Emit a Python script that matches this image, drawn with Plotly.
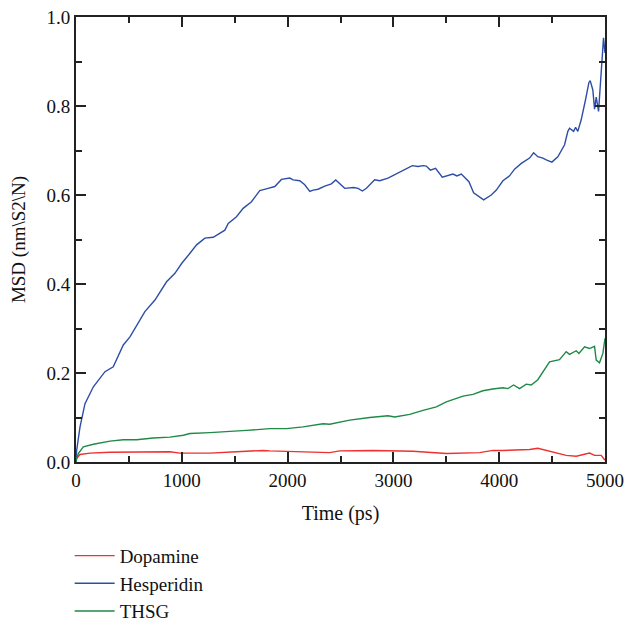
import plotly.graph_objects as go

# Hesperidin
hes_t = [0, 6, 38, 85, 164, 274, 352, 447, 510, 651, 746, 856, 935, 998, 1077, 1140, 1218, 1297,
         1407, 1439, 1517, 1580, 1659, 1737, 1816, 1879, 1942, 2021, 2052, 2115, 2162, 2210, 2241,
         2288, 2351, 2414, 2455, 2493, 2540, 2625, 2666, 2707, 2745, 2823, 2871, 2949, 3028, 3091,
         3179, 3232, 3280, 3311, 3349, 3399, 3462, 3563, 3600, 3642, 3714, 3758, 3853, 3925, 3973,
         4035, 4098, 4145, 4209, 4287, 4325, 4365, 4413, 4445, 4498, 4554, 4592, 4618, 4649, 4665,
         4703, 4722, 4743, 4775, 4816, 4848, 4860, 4885, 4901, 4917, 4939, 4964, 4986, 5000]
hes_y = [0.0, 0.026, 0.079, 0.131, 0.169, 0.203, 0.214, 0.263, 0.281, 0.338, 0.364, 0.405, 0.424,
         0.446, 0.469, 0.488, 0.503, 0.505, 0.521, 0.536, 0.551, 0.570, 0.585, 0.610, 0.615, 0.619,
         0.635, 0.638, 0.634, 0.632, 0.623, 0.608, 0.611, 0.613, 0.620, 0.625, 0.634, 0.626, 0.615,
         0.617, 0.615, 0.609, 0.615, 0.634, 0.632, 0.638, 0.647, 0.656, 0.666, 0.664, 0.666, 0.665,
         0.656, 0.660, 0.640, 0.647, 0.643, 0.647, 0.630, 0.605, 0.589, 0.600, 0.611, 0.632, 0.643,
         0.658, 0.671, 0.683, 0.695, 0.686, 0.683, 0.679, 0.674, 0.686, 0.701, 0.713, 0.743, 0.750,
         0.743, 0.752, 0.743, 0.769, 0.814, 0.853, 0.857, 0.836, 0.793, 0.820, 0.788, 0.874, 0.953,
         0.919]

# THSG
thsg_t = [0, 6, 22, 69, 164, 321, 447, 573, 730, 888, 1014, 1077, 1265, 1423, 1612, 1832, 1990,
          2146, 2335, 2398, 2493, 2587, 2776, 2949, 3012, 3154, 3280, 3406, 3500, 3658, 3752, 3846,
          3940, 4035, 4082, 4136, 4192, 4256, 4303, 4365, 4476, 4570, 4633, 4665, 4728, 4753, 4807,
          4854, 4901, 4917, 4948, 4980, 5000]
thsg_y = [0.0, 0.008, 0.019, 0.034, 0.040, 0.047, 0.050, 0.050, 0.054, 0.056, 0.060, 0.064, 0.066,
          0.069, 0.071, 0.075, 0.075, 0.079, 0.086, 0.085, 0.090, 0.094, 0.100, 0.104, 0.101, 0.107,
          0.116, 0.124, 0.135, 0.148, 0.152, 0.160, 0.164, 0.167, 0.165, 0.173, 0.165, 0.175, 0.173,
          0.185, 0.225, 0.230, 0.248, 0.242, 0.250, 0.244, 0.259, 0.255, 0.260, 0.229, 0.223, 0.244,
          0.278]

# Dopamine
dop_t = [0, 6, 38, 132, 321, 573, 888, 982, 1014, 1265, 1517, 1769, 1832, 2398, 2493, 2807, 3185,
         3500, 3815, 3941, 4035, 4287, 4365, 4476, 4633, 4728, 4854, 4901, 4964, 5000]
dop_y = [0.0, 0.008, 0.017, 0.020, 0.022, 0.022, 0.023, 0.020, 0.020, 0.020, 0.023, 0.026, 0.025,
         0.021, 0.025, 0.026, 0.024, 0.019, 0.021, 0.026, 0.026, 0.028, 0.031, 0.025, 0.015, 0.013,
         0.020, 0.015, 0.015, 0.004]

FONT = "Liberation Serif"

fig = go.Figure()
fig.add_trace(go.Scatter(x=dop_t, y=dop_y, mode="lines", name="Dopamine",
                         line=dict(color="#ee3030", width=1.4)))
fig.add_trace(go.Scatter(x=hes_t, y=hes_y, mode="lines", name="Hesperidin",
                         line=dict(color="#2e4ea6", width=1.4)))
fig.add_trace(go.Scatter(x=thsg_t, y=thsg_y, mode="lines", name="THSG",
                         line=dict(color="#1e8a46", width=1.4)))

axis_common = dict(showline=True, linecolor="#222", linewidth=2, mirror="ticks",
                   ticks="inside", ticklen=10, tickwidth=1.5, tickcolor="#222",
                   showgrid=False, zeroline=False, automargin=False,
                   tickfont=dict(family=FONT, size=19, color="#111"))

fig.update_layout(
    width=627, height=621,
    margin=dict(l=76, r=22, t=17, b=159, autoexpand=False),
    paper_bgcolor="white", plot_bgcolor="white",
    font=dict(family=FONT, size=18, color="#111"),
    xaxis=dict(range=[0, 5000], dtick=1000, tick0=0,
               title=dict(text="Time (ps)", font=dict(family=FONT, size=20), standoff=16),
               minor=dict(dtick=500, ticks="inside", ticklen=6, tickcolor="#222", tickwidth=1.5),
               **axis_common),
    yaxis=dict(range=[0, 1], dtick=0.2, tick0=0, tickformat=".1f",
               title=dict(text="MSD (nm\\S2\\N)", font=dict(family=FONT, size=19), standoff=16),
               minor=dict(dtick=0.1, ticks="inside", ticklen=6, tickcolor="#222", tickwidth=1.5),
               **axis_common),
    legend=dict(x=-0.012, xanchor="left", y=-0.168, yanchor="top",
                font=dict(family=FONT, size=19), bgcolor="rgba(0,0,0,0)",
                tracegroupgap=0, itemwidth=40),
    showlegend=True,
)

fig.write_html("out.html")
